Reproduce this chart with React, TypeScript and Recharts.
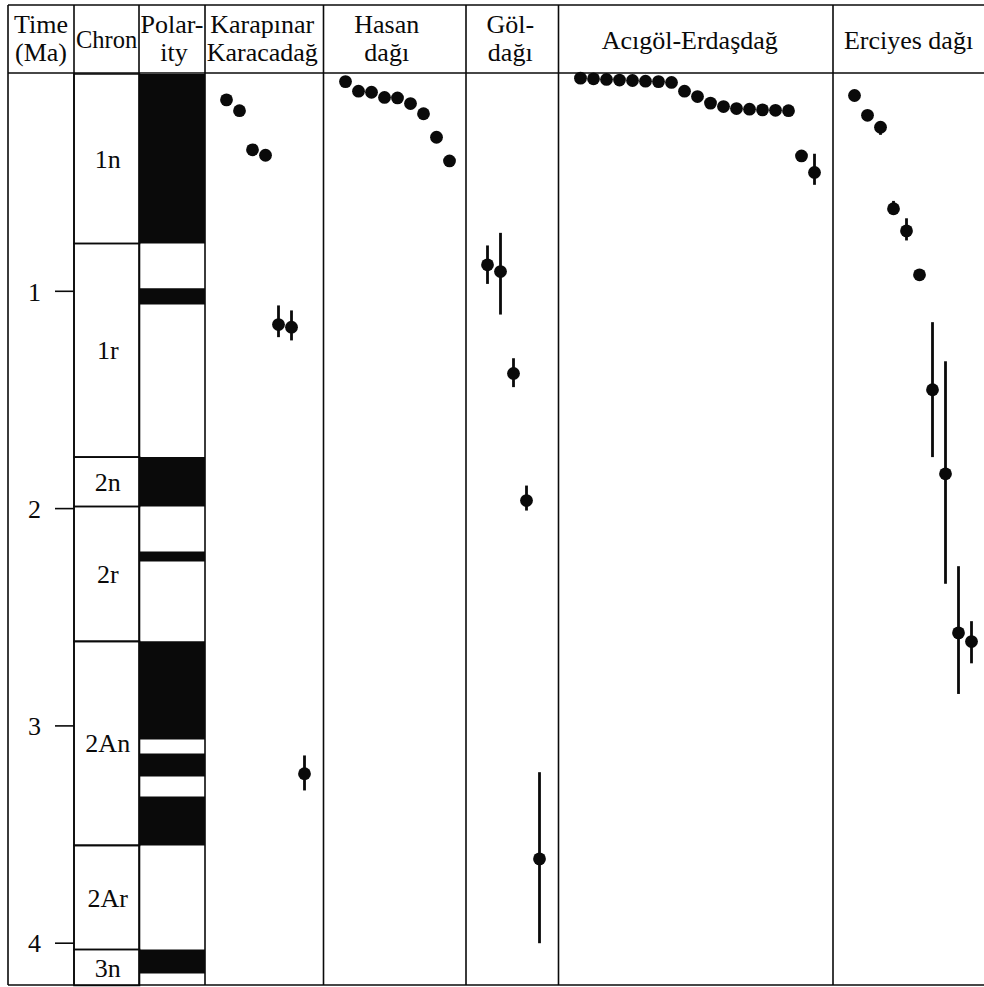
import React from 'react';
import { ScatterChart, Scatter, XAxis, YAxis, ErrorBar, ReferenceArea } from 'recharts';

// ---------------- data ----------------
const TIME_TICKS = [1, 2, 3, 4];

const CHRON_NAMES = ['1n', '1r', '2n', '2r', '2An', '2Ar', '3n'];
const CHRON_TOPS = [0, 0.78, 1.763, 1.99, 2.611, 3.55, 4.029];

// normal-polarity (black) intervals, Ma
const NORMAL_TOPS = [0, 0.986, 1.763, 2.197, 2.611, 3.127, 3.325, 4.029];
const NORMAL_BASES = [0.78, 1.061, 1.99, 2.243, 3.063, 3.233, 3.55, 4.139];

const KARAPINAR_AGE = [0.119, 0.169, 0.349, 0.374, 1.153, 1.165, 3.22];
const KARAPINAR_UP = [0, 0, 0, 0, 0.088, 0.077, 0.084];
const KARAPINAR_DOWN = [0, 0, 0, 0, 0.058, 0.061, 0.077];

const HASAN_AGE = [0.035, 0.079, 0.084, 0.108, 0.11, 0.136, 0.183, 0.291, 0.4];
const HASAN_UP = [0, 0, 0, 0, 0, 0, 0, 0, 0];
const HASAN_DOWN = [0, 0, 0, 0, 0, 0, 0, 0, 0];

const GOL_AGE = [0.878, 0.909, 1.378, 1.963, 3.612];
const GOL_UP = [0.089, 0.178, 0.07, 0.069, 0.399];
const GOL_DOWN = [0.088, 0.198, 0.063, 0.046, 0.388];

const ACIGOL_AGE = [0.019, 0.022, 0.025, 0.028, 0.03, 0.033, 0.035, 0.039, 0.079, 0.104, 0.134, 0.15, 0.159, 0.162, 0.165, 0.167, 0.169, 0.377, 0.453];
const ACIGOL_UP = [0, 0, 0, 0, 0, 0, 0, 0, 0, 0, 0, 0, 0, 0, 0, 0, 0, 0, 0.086];
const ACIGOL_DOWN = [0, 0, 0, 0, 0, 0, 0, 0, 0, 0, 0, 0, 0, 0, 0, 0, 0, 0, 0.057];

const ERCIYES_AGE = [0.099, 0.19, 0.245, 0.62, 0.722, 0.924, 1.453, 1.84, 2.572, 2.612];
const ERCIYES_UP = [0, 0, 0.02, 0.036, 0.058, 0, 0.311, 0.518, 0.307, 0.094];
const ERCIYES_DOWN = [0, 0, 0.035, 0.02, 0.044, 0, 0.31, 0.506, 0.281, 0.1];

// ---------------- layout ----------------
const W = 984;
const H = 987;
const FRAME_TOP = 5;
const TOP = 73.5;
const BOTTOM = 985;
const PX_PER_MA = 217.3;
const Y_MAX = (BOTTOM - TOP) / PX_PER_MA;
const PLOT_H = BOTTOM - TOP;
const PAD = 14;
const COL_X = [8, 74, 139, 205, 323.5, 466, 558.5, 833, 984];
const LEAD = 21.5;
const STEP = 13;
const DOT_R = 6.4;
const FONT = '"Liberation Serif", "Times New Roman", serif';
const FS = 26;
const INK = '#0a0a0a';

type Pt = { i: number; t: number; err: [number, number] };
function buildPoints(age: number[], up: number[], down: number[]): Pt[] {
  return age.map((t, k) => ({ i: k + 1, t, err: [up[k], down[k]] as [number, number] }));
}

const COLUMNS = [
  { key: 'karapinar', col: 3, data: buildPoints(KARAPINAR_AGE, KARAPINAR_UP, KARAPINAR_DOWN) },
  { key: 'hasan', col: 4, data: buildPoints(HASAN_AGE, HASAN_UP, HASAN_DOWN) },
  { key: 'gol', col: 5, data: buildPoints(GOL_AGE, GOL_UP, GOL_DOWN) },
  { key: 'acigol', col: 6, data: buildPoints(ACIGOL_AGE, ACIGOL_UP, ACIGOL_DOWN) },
  { key: 'erciyes', col: 7, data: buildPoints(ERCIYES_AGE, ERCIYES_UP, ERCIYES_DOWN) },
];

const chrons = CHRON_NAMES.map((name, k) => {
  const top = CHRON_TOPS[k];
  const base = k + 1 < CHRON_TOPS.length ? CHRON_TOPS[k + 1] : Y_MAX;
  return { name, top, base, x: 0.5, t: (top + base) / 2 };
});

const Dot = (p: any) => <circle cx={p.cx} cy={p.cy} r={DOT_R} fill={INK} />;

const ChronLabel = (p: any) => (
  <text
    x={p.cx + 1}
    y={p.cy}
    dy="0.35em"
    textAnchor="middle"
    fontFamily={FONT}
    fontSize={FS}
    fill={INK}
  >
    {p.payload?.name ?? p.name}
  </text>
);

function DataColumn({ col, data }: { col: number; data: Pt[] }) {
  const left = COL_X[col];
  const width = COL_X[col + 1] - COL_X[col];
  const xMin = 1 - LEAD / STEP;
  const xMax = xMin + width / STEP;
  return (
    <div style={{ position: 'absolute', left, top: TOP - PAD }}>
      <ScatterChart width={width} height={PLOT_H + 2 * PAD} margin={{ top: PAD, bottom: PAD, left: 0, right: 0 }}>
        <XAxis type="number" dataKey="i" domain={[xMin, xMax]} hide />
        <YAxis type="number" dataKey="t" domain={[0, Y_MAX]} reversed hide />
        <Scatter data={data} shape={Dot} isAnimationActive={false}>
          <ErrorBar dataKey="err" direction="y" width={0} stroke={INK} strokeWidth={2.8} isAnimationActive={false} />
        </Scatter>
      </ScatterChart>
    </div>
  );
}

function LeftColumns() {
  return (
    <div style={{ position: 'absolute', left: 0, top: TOP - PAD }}>
      <ScatterChart width={COL_X[3]} height={PLOT_H + 2 * PAD} margin={{ top: PAD, bottom: PAD, left: COL_X[0], right: 0 }}>
        <XAxis type="number" dataKey="x" domain={[0, 2]} hide />
        <YAxis
          type="number"
          dataKey="t"
          domain={[0, Y_MAX]}
          reversed
          ticks={TIME_TICKS}
          width={COL_X[1] - COL_X[0]}
          axisLine={false}
          tickSize={19}
          tickMargin={14}
          tickLine={{ stroke: INK, strokeWidth: 1.6 }}
          tick={{ fill: INK, fontSize: FS, fontFamily: FONT }}
        />
        {NORMAL_TOPS.map((t, k) => (
          <ReferenceArea key={'p' + k} x1={1} x2={2} y1={t} y2={NORMAL_BASES[k]} fill={INK} fillOpacity={1} stroke="none" />
        ))}
        {chrons.map((c) => (
          <ReferenceArea
            key={c.name}
            x1={0}
            x2={1}
            y1={c.top}
            y2={c.base}
            fill="#fff"
            fillOpacity={0}
            stroke={INK}
            strokeWidth={1.6}
          />
        ))}
        <Scatter data={chrons} shape={ChronLabel} isAnimationActive={false} />
      </ScatterChart>
    </div>
  );
}

function Overlay() {
  const t = { fontFamily: FONT, fontSize: FS, fill: INK, textAnchor: 'middle' as const };
  const mid = (k: number) => (COL_X[k] + COL_X[k + 1]) / 2;
  return (
    <svg width={W} height={H} style={{ position: 'absolute', left: 0, top: 0, pointerEvents: 'none' }}>
      <g stroke={INK} strokeWidth={1.6}>
        <line x1={COL_X[0]} y1={FRAME_TOP} x2={W} y2={FRAME_TOP} />
        <line x1={COL_X[0]} y1={73} x2={W} y2={73} />
        <line x1={COL_X[0]} y1={BOTTOM} x2={W} y2={BOTTOM} />
        {COL_X.slice(0, 8).map((x) => (
          <line key={x} x1={x} y1={FRAME_TOP} x2={x} y2={BOTTOM} />
        ))}
      </g>
      <text {...t} x={mid(0)} y={33}>Time</text>
      <text {...t} x={mid(0)} y={61}>(Ma)</text>
      <text {...t} x={mid(1)} y={48} fontSize={24.5}>Chron</text>
      <text {...t} x={mid(2)} y={33}>Polar-</text>
      <text {...t} x={mid(2) + 2} y={61}>ity</text>
      <text {...t} x={mid(3) - 2} y={33}>Karapınar</text>
      <text {...t} x={mid(3) - 2} y={61}>Karacadağ</text>
      <text {...t} x={mid(4) - 8} y={33}>Hasan</text>
      <text {...t} x={mid(4) - 8} y={61}>dağı</text>
      <text {...t} x={mid(5) - 2} y={33}>Göl-</text>
      <text {...t} x={mid(5) - 2} y={61}>dağı</text>
      <text {...t} x={mid(6) - 6} y={49}>Acıgöl-Erdaşdağ</text>
      <text {...t} x={mid(7)} y={49}>Erciyes dağı</text>
    </svg>
  );
}

export default function App() {
  return (
    <div style={{ position: 'absolute', left: 0, top: 0, width: W, height: H, background: '#fff', overflow: 'hidden' }}>
      <LeftColumns />
      {COLUMNS.map((c) => (
        <DataColumn key={c.key} col={c.col} data={c.data} />
      ))}
      <Overlay />
    </div>
  );
}
